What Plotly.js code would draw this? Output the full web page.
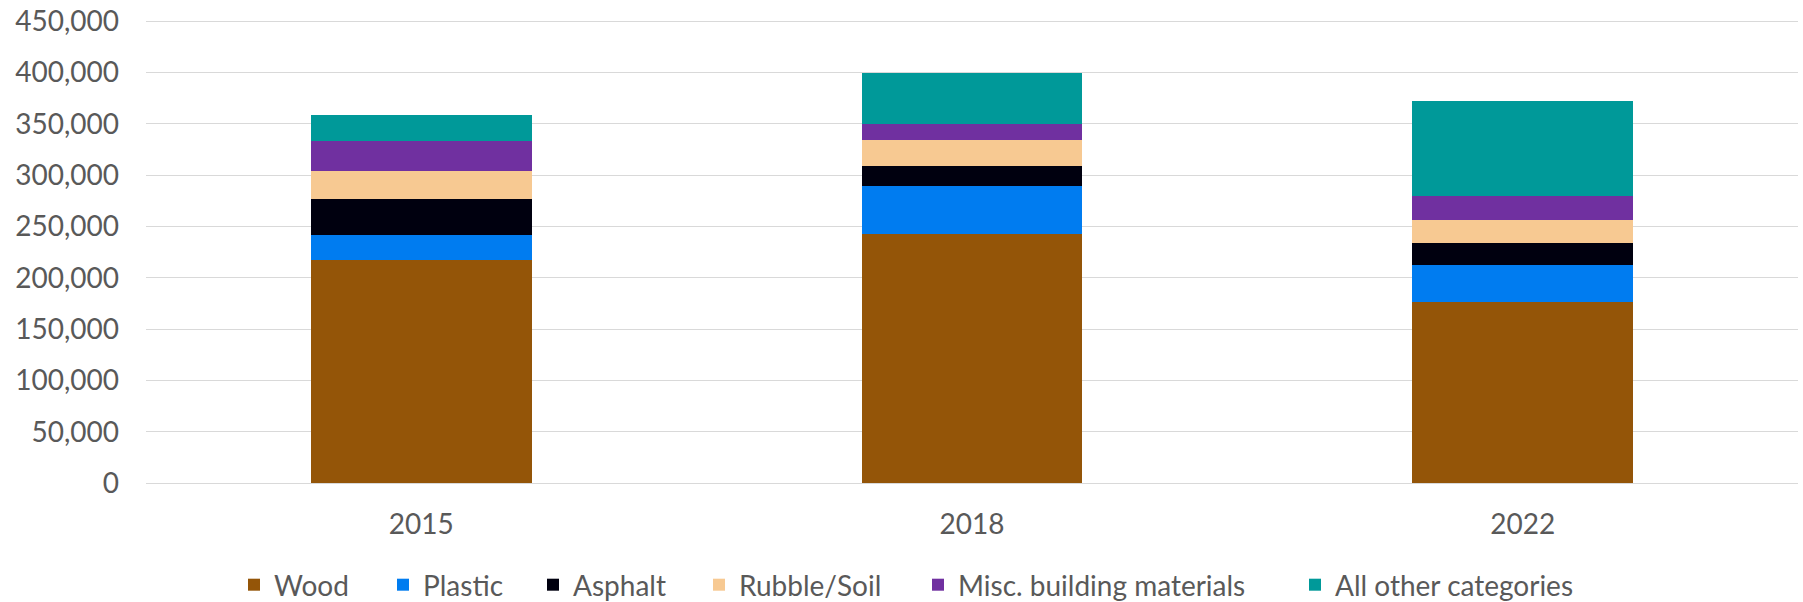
<!DOCTYPE html>
<html>
<head>
<meta charset="utf-8">
<script src="https://cdn.plot.ly/plotly-3.0.1.min.js"></script>
<style>
  html, body { margin: 0; padding: 0; background: #ffffff; }
  #chart { width: 1803px; height: 602px; }
</style>
</head>
<body>
<div id="chart"></div>
<script>
// ---- Data ----
const years = ["2015", "2018", "2022"];
const seriesNames = ["Wood", "Plastic", "Asphalt", "Rubble/Soil", "Misc. building materials", "All other categories"];
const wood     = [217700, 243000, 176700];
const plastic  = [24200, 46000, 36200];
const asphalt  = [34500, 19700, 20600];
const rubble   = [28000, 25400, 23200];
const misc     = [28500, 15900, 22600];
const other    = [25700, 50000, 92600];
const yTickVals = [0, 50000, 100000, 150000, 200000, 250000, 300000, 350000, 400000, 450000];

// ---- Styles ----
const colors = ["#945508", "#007CF0", "#00000F", "#F7C992", "#7030A0", "#009999"];
const seriesValues = [wood, plastic, asphalt, rubble, misc, other];
// legend text start positions (px, container) for each entry
const legendTextX = [274, 423, 573, 739, 958, 1335];
const FONT = "Lato, 'Open Sans', sans-serif";
const TXT = "#595959";

const traces = seriesNames.map((name, i) => ({
  type: "bar",
  name: name,
  x: years,
  y: seriesValues[i],
  marker: { color: colors[i], line: { width: 0 } },
  legend: i === 0 ? "legend" : "legend" + (i + 1),
  hoverinfo: "x+y+name"
}));

const layout = {
  width: 1803,
  height: 602,
  paper_bgcolor: "#ffffff",
  plot_bgcolor: "#ffffff",
  margin: { l: 146, r: 5, t: 20, b: 119 },
  barmode: "stack",
  bargap: 0.599,
  font: { family: FONT, color: TXT, size: 28 },
  xaxis: {
    type: "category",
    showgrid: false,
    showline: false,
    zeroline: false,
    ticks: "",
    ticklabelstandoff: 22,
    tickfont: { family: FONT, size: 28, color: TXT }
  },
  yaxis: {
    range: [0, 451200],
    tickvals: yTickVals,
    tickformat: ",d",
    showgrid: true,
    gridcolor: "#d9d9d9",
    gridwidth: 1.3,
    zeroline: true,
    zerolinecolor: "#d9d9d9",
    zerolinewidth: 1.3,
    showline: false,
    ticks: "",
    ticklabelstandoff: 26,
    tickfont: { family: FONT, size: 28, color: TXT }
  },
  showlegend: true
};

seriesNames.forEach((n, i) => {
  const key = i === 0 ? "legend" : "legend" + (i + 1);
  layout[key] = {
    orientation: "h",
    xref: "container",
    yref: "container",
    x: (legendTextX[i] - 40) / 1803,
    xanchor: "left",
    y: 1 - 585 / 602,
    yanchor: "middle",
    bgcolor: "rgba(0,0,0,0)",
    borderwidth: 0,
    font: { family: FONT, size: 28, color: TXT }
  };
});

Plotly.newPlot("chart", traces, layout, { displayModeBar: false, responsive: false });
</script>
</body>
</html>
